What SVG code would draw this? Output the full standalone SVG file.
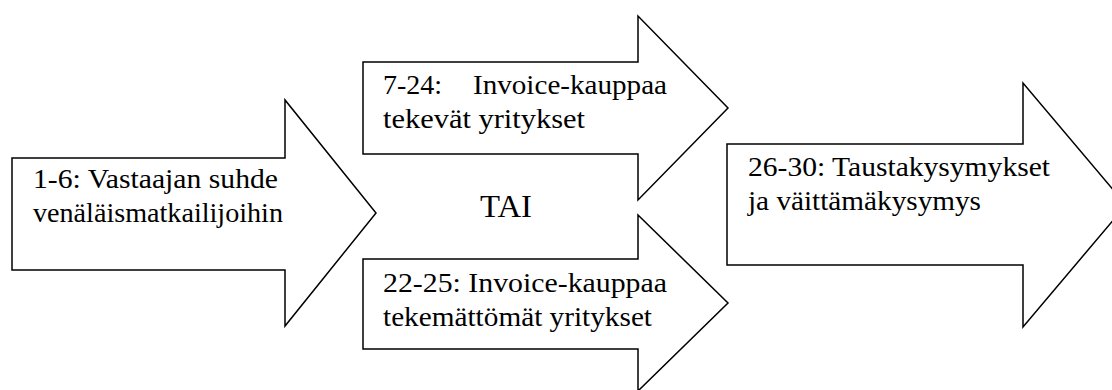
<svg xmlns="http://www.w3.org/2000/svg" width="1112" height="390" viewBox="0 0 1112 390">
<style>
.arrow{fill:#fff;stroke:#000;stroke-width:1.5;stroke-linejoin:miter}
.t{font-family:'Liberation Serif','Times New Roman',serif;font-size:28px;fill:#000}
.big{font-family:'Liberation Serif','Times New Roman',serif;font-size:31px;fill:#000}
</style>
<rect width="1112" height="390" fill="#fff"/>
<g id="connectors"></g>
<g id="node-1-6">
<polygon class="arrow" points="12,158 285,158 285,100 376,213 285,326 285,270 12,270"/>
<text class="t" x="33" y="188" textLength="245" lengthAdjust="spacingAndGlyphs">1-6: Vastaajan suhde</text>
<text class="t" x="33" y="222" textLength="250" lengthAdjust="spacingAndGlyphs">venäläismatkailijoihin</text>
</g>
<g id="node-7-24">
<polygon class="arrow" points="363,62 638,62 638,16 728,108 638,200 638,154 363,154"/>
<text class="t" x="383" y="94">7-24:</text>
<text class="t" x="473" y="94" textLength="194" lengthAdjust="spacingAndGlyphs">Invoice-kauppaa</text>
<text class="t" x="383" y="128" textLength="202" lengthAdjust="spacingAndGlyphs">tekevät yritykset</text>
</g>
<g id="node-tai">
<text class="big" x="480" y="217" textLength="52" lengthAdjust="spacingAndGlyphs">TAI</text>
</g>
<g id="node-22-25">
<polygon class="arrow" points="363,259 638,259 638,215 728,303 638,391 638,349 363,349"/>
<text class="t" x="383" y="292" textLength="284" lengthAdjust="spacingAndGlyphs">22-25: Invoice-kauppaa</text>
<text class="t" x="383" y="326" textLength="269" lengthAdjust="spacingAndGlyphs">tekemättömät yritykset</text>
</g>
<g id="node-26-30">
<polygon class="arrow" points="727,144 1023,144 1023,83 1126,205 1023,327 1023,265 727,265"/>
<text class="t" x="748" y="176" textLength="302" lengthAdjust="spacingAndGlyphs">26-30: Taustakysymykset</text>
<text class="t" x="748" y="210" textLength="233" lengthAdjust="spacingAndGlyphs">ja väittämäkysymys</text>
</g>
</svg>
